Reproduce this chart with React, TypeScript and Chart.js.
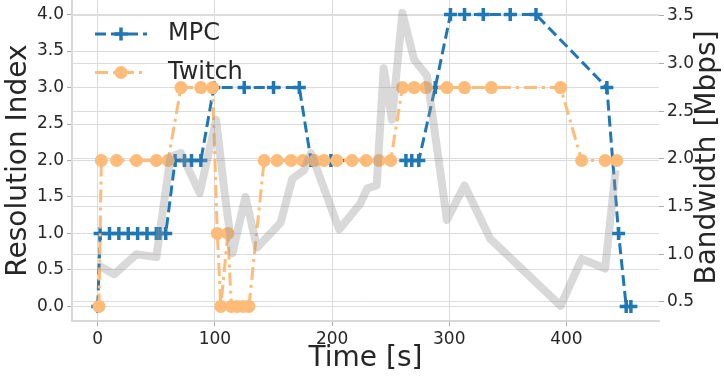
import React, { useEffect, useRef } from 'react';
import { Chart, registerables } from 'chart.js';

Chart.register(...registerables);

// ---- data ----
const mpcTime = [0, 2, 10, 18, 26, 34, 42, 50, 53, 58, 66, 74, 80, 88, 99, 125, 150, 172, 182, 199, 263, 268, 274, 288, 301, 313, 329, 352, 374, 434.5, 444.5, 451, 455];
const mpcRes = [0, 1, 1, 1, 1, 1, 1, 1, 1, 1, 2, 2, 2, 2, 3, 3, 3, 3, 2, 2, 2, 2, 2, 3, 4, 4, 4, 4, 4, 3, 1, 0, 0];

const twitchTime = [1, 3, 16, 33, 50, 60, 71, 88, 98, 102, 105, 111, 114, 119, 124, 129, 142, 153, 165, 175, 185, 193, 204, 217, 229, 240, 250, 260, 270, 280, 298, 313, 336, 395, 413, 433, 443];
const twitchRes = [0, 2, 2, 2, 2, 2, 3, 3, 3, 1, 0, 1, 0, 0, 0, 0, 2, 2, 2, 2, 2, 2, 2, 2, 2, 2, 2, 3, 3, 3, 3, 3, 3, 3, 2, 2, 2];

const bwTime = [1, 14, 33, 50, 62, 71, 87, 101, 108, 115, 126, 136, 156, 166, 176, 182, 206, 224, 230, 238, 244, 251, 260, 270, 281, 298, 313, 335, 395, 413, 433, 442];
const bwMbps = [0.88, 0.79, 1.0, 0.97, 2.02, 2.06, 1.64, 2.41, 1.67, 1.01, 1.6, 1.07, 1.33, 1.79, 1.88, 2.06, 1.26, 1.53, 1.69, 1.72, 2.95, 2.41, 3.53, 3.04, 2.87, 1.36, 1.72, 1.16, 0.46, 0.95, 0.85, 1.88];

const xTicks = [0, 100, 200, 300, 400];
const resTicks = [0, 0.5, 1, 1.5, 2, 2.5, 3, 3.5, 4];
const bwTicks = [0.5, 1, 1.5, 2, 2.5, 3, 3.5];

const seriesNames = ['MPC', 'Twitch'];
const axisTitles = { x: 'Time [s]', left: 'Resolution Index', right: 'Bandwidth [Mbps]' };

const FONT = "'DejaVu Sans', 'Liberation Sans', sans-serif";
const TEXT = '#262626';
const BLUE = '#1f77b4';
const ORANGE = '#ffbb78';
const GRAY = 'rgba(150,150,150,0.36)';
const GRID = '#dcdcdc';
const MPC_DASH = [11, 5];
const TW_DASH = [13, 5, 3, 5];

function zip(xs: number[], ys: number[]) {
  return xs.map((x, i) => ({ x, y: ys[i] }));
}

function noPad(s: any) {
  s.paddingTop = 0;
  s.paddingBottom = 0;
  s.paddingLeft = 0;
  s.paddingRight = 0;
}

export default function App() {
  const ref = useRef<HTMLCanvasElement>(null);

  useEffect(() => {
    document.body.style.margin = '0';
    const canvas = ref.current;
    if (!canvas) return;

    const overlay = {
      id: 'overlay',
      afterDatasetsDraw(chart: any) {
        const ctx = chart.ctx as CanvasRenderingContext2D;
        ctx.save();
        const x0 = 95, x1 = 147, xm = 121, tx = 168;
        const rows = [34, 72.5];
        // MPC handle
        ctx.strokeStyle = BLUE;
        ctx.lineWidth = 3;
        ctx.setLineDash(MPC_DASH);
        ctx.beginPath();
        ctx.moveTo(x0, rows[0]);
        ctx.lineTo(x1, rows[0]);
        ctx.stroke();
        ctx.setLineDash([]);
        ctx.lineWidth = 3.5;
        ctx.beginPath();
        ctx.moveTo(xm - 6.5, rows[0]);
        ctx.lineTo(xm + 6.5, rows[0]);
        ctx.moveTo(xm, rows[0] - 6.5);
        ctx.lineTo(xm, rows[0] + 6.5);
        ctx.stroke();
        // Twitch handle
        ctx.strokeStyle = ORANGE;
        ctx.lineWidth = 3;
        ctx.setLineDash(TW_DASH);
        ctx.beginPath();
        ctx.moveTo(x0, rows[1]);
        ctx.lineTo(x1, rows[1]);
        ctx.stroke();
        ctx.setLineDash([]);
        ctx.fillStyle = ORANGE;
        ctx.beginPath();
        ctx.arc(xm, rows[1], 6.5, 0, Math.PI * 2);
        ctx.fill();
        // texts
        ctx.fillStyle = TEXT;
        ctx.font = `24px ${FONT}`;
        ctx.textAlign = 'left';
        ctx.textBaseline = 'middle';
        ctx.fillText(seriesNames[0], tx, rows[0]);
        ctx.fillText(seriesNames[1], tx, rows[1]);
        ctx.restore();
      },
      afterDraw(chart: any) {
        const ctx = chart.ctx as CanvasRenderingContext2D;
        const area = chart.chartArea;
        ctx.save();
        ctx.fillStyle = TEXT;
        ctx.font = `28px ${FONT}`;
        ctx.textAlign = 'center';
        ctx.textBaseline = 'middle';
        const cy = (area.top + area.bottom) / 2;
        ctx.fillText(axisTitles.x, (area.left + area.right) / 2, 359);
        ctx.save();
        ctx.translate(19, cy);
        ctx.rotate(-Math.PI / 2);
        ctx.fillText(axisTitles.left, 0, 0);
        ctx.restore();
        ctx.save();
        ctx.translate(708, cy - 3);
        ctx.rotate(-Math.PI / 2);
        ctx.fillText(axisTitles.right, 0, 0);
        ctx.restore();
        ctx.restore();
      },
    };

    const tickFont = { family: FONT, size: 17 };

    const chart = new Chart(canvas, {
      type: 'line',
      data: {
        datasets: [
          {
            label: 'Bandwidth',
            data: zip(bwTime, bwMbps),
            yAxisID: 'y1',
            borderColor: GRAY,
            borderWidth: 8,
            pointRadius: 0,
            fill: false,
            tension: 0,
            order: 0,
            borderJoinStyle: 'round',
          },
          {
            label: seriesNames[1],
            data: zip(twitchTime, twitchRes),
            yAxisID: 'y',
            borderColor: ORANGE,
            backgroundColor: ORANGE,
            borderWidth: 3,
            borderDash: TW_DASH,
            pointStyle: 'circle',
            pointRadius: 6.5,
            pointBorderWidth: 0,
            pointBackgroundColor: ORANGE,
            fill: false,
            tension: 0,
            order: 1,
          },
          {
            label: seriesNames[0],
            data: zip(mpcTime, mpcRes),
            yAxisID: 'y',
            borderColor: BLUE,
            backgroundColor: BLUE,
            borderWidth: 3,
            borderDash: MPC_DASH,
            pointStyle: 'cross',
            pointRadius: 6.5,
            pointBorderWidth: 3.5,
            pointBorderColor: BLUE,
            fill: false,
            tension: 0,
            order: 2,
          },
        ] as any,
      },
      options: {
        responsive: false,
        animation: false,
        devicePixelRatio: 1,
        layout: { padding: 0, autoPadding: false },
        plugins: {
          legend: { display: false },
          tooltip: { enabled: false },
        },
        scales: {
          x: {
            type: 'linear',
            min: -22,
            max: 479,
            afterBuildTicks: (s: any) => { s.ticks = xTicks.map((v) => ({ value: v })); },
            afterFit: (s: any) => { s.height = 58; noPad(s); },
            ticks: { font: tickFont, color: TEXT, padding: 3, callback: (v: any) => String(v), maxRotation: 0 },
            grid: { color: GRID, lineWidth: 1, tickLength: 5, tickColor: '#aaaaaa' },
            border: { display: true, color: '#d8d8d8', width: 2 },
          },
          y: {
            type: 'linear',
            position: 'left',
            min: -0.2,
            max: 4.2,
            afterBuildTicks: (s: any) => { s.ticks = resTicks.map((v) => ({ value: v })); },
            afterFit: (s: any) => { s.width = 72; noPad(s); },
            ticks: { font: tickFont, color: TEXT, padding: 3, callback: (v: any) => Number(v).toFixed(1) },
            grid: { color: GRID, lineWidth: 1, tickLength: 5, tickColor: '#aaaaaa' },
            border: { display: true, color: '#d8d8d8', width: 2 },
          },
          y1: {
            type: 'linear',
            position: 'right',
            min: 0.3,
            max: 3.665,
            afterBuildTicks: (s: any) => { s.ticks = bwTicks.map((v) => ({ value: v })); },
            afterFit: (s: any) => { s.width = 65; noPad(s); },
            ticks: { font: tickFont, color: TEXT, padding: 3, callback: (v: any) => Number(v).toFixed(1) },
            grid: { color: GRID, lineWidth: 1, tickLength: 5, tickColor: '#aaaaaa' },
            border: { display: false },
          },
        },
      } as any,
      plugins: [overlay],
    });

    return () => chart.destroy();
  }, []);

  return (
    <div style={{ width: 724, height: 379, position: 'relative' }}>
      <canvas ref={ref} width={724} height={379} style={{ width: 724, height: 379, display: 'block' }} />
    </div>
  );
}
